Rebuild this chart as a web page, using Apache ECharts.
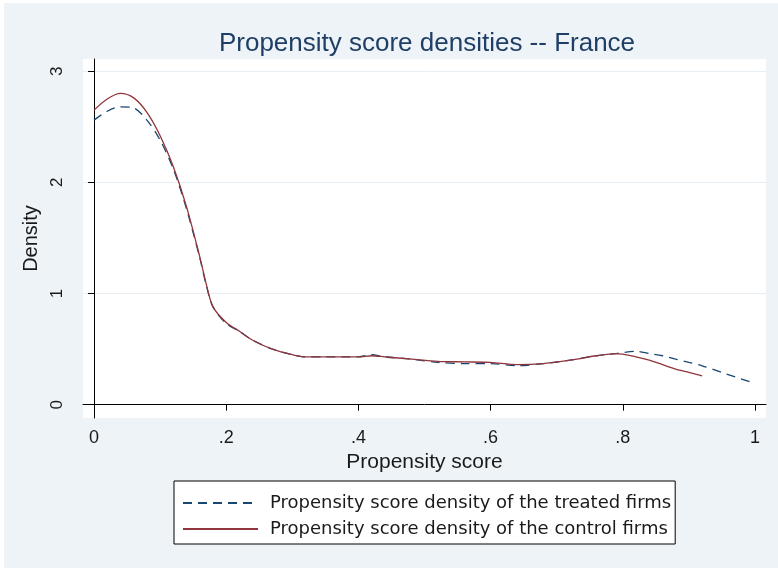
<!DOCTYPE html>
<html>
<head>
<meta charset="utf-8">
<script src="https://cdn.jsdelivr.net/npm/echarts@6/dist/echarts.min.js"></script>
<style>
html,body{margin:0;padding:0;background:#ffffff;}
#chart{width:778px;height:568px;}
</style>
</head>
<body>
<div id="chart"></div>
<script>
const chartTitle = "Propensity score densities -- France";
const xAxisName = "Propensity score";
const yAxisName = "Density";
const seriesNames = ["Propensity score density of the treated firms", "Propensity score density of the control firms"];
const xTicks = [0, 0.2, 0.4, 0.6, 0.8, 1];
const yTicks = [0, 1, 2, 3];

const scores = [0, 0.02, 0.04, 0.06, 0.08, 0.10, 0.12, 0.14, 0.16, 0.17, 0.18, 0.20, 0.22, 0.24, 0.27, 0.30, 0.32, 0.35, 0.40, 0.42, 0.44, 0.48, 0.52, 0.56, 0.60, 0.64, 0.68, 0.72, 0.76, 0.79, 0.82, 0.84, 0.86, 0.88, 0.90, 0.92, 0.95, 1.00];
const treated = [2.56, 2.64, 2.68, 2.67, 2.56, 2.38, 2.12, 1.76, 1.32, 1.07, 0.88, 0.73, 0.66, 0.58, 0.50, 0.45, 0.43, 0.43, 0.43, 0.45, 0.43, 0.41, 0.38, 0.37, 0.37, 0.35, 0.37, 0.40, 0.44, 0.46, 0.48, 0.46, 0.44, 0.41, 0.38, 0.35, 0.29, 0.19];
const control = [2.65, 2.75, 2.80, 2.76, 2.63, 2.42, 2.14, 1.78, 1.33, 1.08, 0.88, 0.74, 0.66, 0.58, 0.50, 0.45, 0.43, 0.43, 0.43, 0.44, 0.43, 0.41, 0.39, 0.385, 0.38, 0.36, 0.37, 0.40, 0.44, 0.46, 0.43, 0.40, 0.36, 0.32, 0.29, 0.26, null, null];

function pairs(vals) {
  const out = [];
  for (let i = 0; i < scores.length; i++) if (vals[i] !== null) out.push([scores[i], vals[i]]);
  return out;
}
function fmt(v) {
  if (v === 0) return "0";
  if (v === 1) return "1";
  return String(v).replace(/^0/, "");
}

const chart = echarts.init(document.getElementById('chart'), null, {renderer: 'canvas'});
const font = "'Liberation Sans', Arial, sans-serif";
const legendFont = "'DejaVu Sans', Verdana, sans-serif";
const textCol = '#1a1a1a';
chart.setOption({
  backgroundColor: '#ffffff',
  animation: false,
  graphic: [{
    type: 'rect', silent: true, z: -100,
    shape: {x: 4, y: 3, width: 774, height: 565},
    style: {fill: '#eef3f7'}
  }],
  title: {
    text: chartTitle,
    left: 422, top: 26, textAlign: 'center',
    textStyle: {color: '#1f3f66', fontSize: 26, fontWeight: 'normal', fontFamily: font}
  },
  grid: {left: 83, top: 59, width: 683, height: 359, show: true, backgroundColor: '#ffffff', borderWidth: 0},
  legend: {
    orient: 'vertical', left: 174, top: 481,
    backgroundColor: '#ffffff', borderColor: '#000000', borderWidth: 1,
    padding: [12, 4, 5, 8], itemGap: 6, itemWidth: 75, itemHeight: 20,
    itemStyle: {opacity: 0},
    textStyle: {fontSize: 18, lineHeight: 20, color: textCol, fontFamily: legendFont, padding: [0, 0, 0, 7]},
    data: [seriesNames[0], seriesNames[1]]
  },
  xAxis: {
    type: 'value', min: -0.0167, max: 1.0167,
    name: xAxisName, nameLocation: 'middle', nameGap: 28,
    nameTextStyle: {fontSize: 21, color: textCol, fontFamily: font},
    axisLine: {show: true, lineStyle: {color: '#000', width: 1}},
    axisTick: {show: true, length: 6, customValues: xTicks, lineStyle: {color: '#000'}},
    axisLabel: {customValues: xTicks, formatter: fmt, fontSize: 18, color: textCol, margin: 11, fontFamily: font},
    splitLine: {show: false}
  },
  yAxis: {
    type: 'value', min: -0.12, max: 3.11,
    name: yAxisName, nameLocation: 'middle', nameGap: 38,
    nameTextStyle: {fontSize: 20, color: textCol, fontFamily: font},
    axisLine: {show: true, lineStyle: {color: '#000', width: 1}},
    axisTick: {show: true, length: 6, customValues: yTicks, lineStyle: {color: '#000'}},
    axisLabel: {customValues: yTicks, rotate: 90, fontSize: 17, color: textCol, margin: 17, fontFamily: font},
    splitLine: {show: true, lineStyle: {color: '#e6eef4', width: 1}}
  },
  series: [
    {
      name: seriesNames[0], type: 'line', data: pairs(treated), smooth: 0.3, symbol: 'none',
      lineStyle: {color: '#1a476f', width: 1.3, type: [9, 6]}, itemStyle: {color: '#1a476f'}, z: 2
    },
    {
      name: seriesNames[1], type: 'line', data: pairs(control), smooth: 0.3, symbol: 'none',
      lineStyle: {color: '#90353b', width: 1.3}, itemStyle: {color: '#90353b'}, z: 3
    }
  ]
});
</script>
</body>
</html>
